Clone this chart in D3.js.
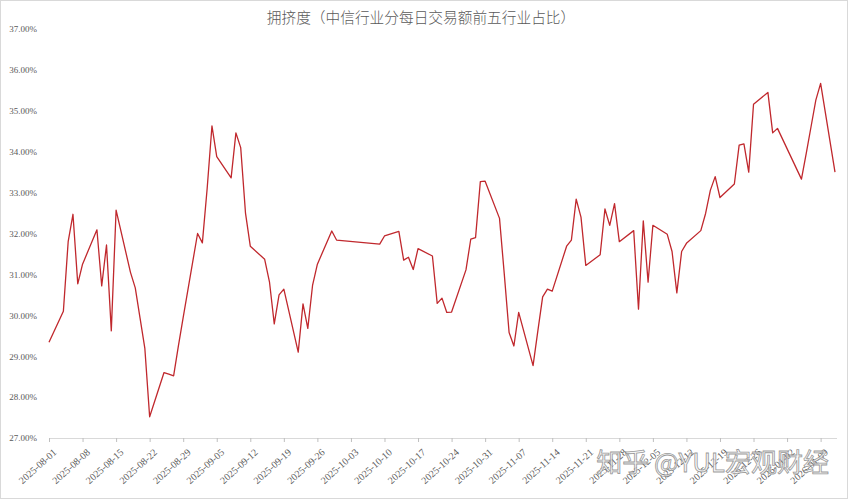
<!DOCTYPE html>
<html>
<head>
<meta charset="utf-8">
<script src="https://cdn.jsdelivr.net/npm/d3@7"></script>
<style>
  body { margin: 0; background: #fff; }
  .tick text { font-family: "Liberation Serif", "Times New Roman", serif; }
</style>
</head>
<body>
<script>
// trading days
var dates = [
  "2025-08-01", "2025-08-04", "2025-08-05", "2025-08-06", "2025-08-07", "2025-08-08",
  "2025-08-11", "2025-08-12", "2025-08-13", "2025-08-14", "2025-08-15",
  "2025-08-18", "2025-08-19", "2025-08-20", "2025-08-21", "2025-08-22",
  "2025-08-25", "2025-08-26", "2025-08-27", "2025-08-28", "2025-08-29",
  "2025-09-01", "2025-09-02", "2025-09-03", "2025-09-04", "2025-09-05",
  "2025-09-08", "2025-09-09", "2025-09-10", "2025-09-11", "2025-09-12",
  "2025-09-15", "2025-09-16", "2025-09-17", "2025-09-18", "2025-09-19",
  "2025-09-22", "2025-09-23", "2025-09-24", "2025-09-25", "2025-09-26",
  "2025-09-29", "2025-09-30", "2025-10-09", "2025-10-10",
  "2025-10-13", "2025-10-14", "2025-10-15", "2025-10-16", "2025-10-17",
  "2025-10-20", "2025-10-21", "2025-10-22", "2025-10-23", "2025-10-24",
  "2025-10-27", "2025-10-28", "2025-10-29", "2025-10-30", "2025-10-31",
  "2025-11-03", "2025-11-04", "2025-11-05", "2025-11-06", "2025-11-07",
  "2025-11-10", "2025-11-11", "2025-11-12", "2025-11-13", "2025-11-14",
  "2025-11-17", "2025-11-18", "2025-11-19", "2025-11-20", "2025-11-21",
  "2025-11-24", "2025-11-25", "2025-11-26", "2025-11-27", "2025-11-28",
  "2025-12-01", "2025-12-02", "2025-12-03", "2025-12-04", "2025-12-05",
  "2025-12-08", "2025-12-09", "2025-12-10", "2025-12-11", "2025-12-12",
  "2025-12-15", "2025-12-16", "2025-12-17", "2025-12-18", "2025-12-19",
  "2025-12-22", "2025-12-23", "2025-12-24", "2025-12-25", "2025-12-26",
  "2025-12-29", "2025-12-30", "2025-12-31",
  "2026-01-05", "2026-01-06", "2026-01-07", "2026-01-08", "2026-01-09",
  "2026-01-12"
];

// share of top five industries (%)
var values = [
  29.34, 30.10, 31.80, 32.47, 30.77, 31.25,
  32.09, 30.72, 31.72, 29.62, 32.57,
  31.05, 30.67, 29.93, 29.19, 27.52,
  28.60, 28.56, 28.52, 29.25, 29.95,
  32.00, 31.77, 33.10, 34.63, 33.88,
  33.36, 34.46, 34.10, 32.50, 31.69,
  31.37, 30.82, 29.79, 30.50, 30.64,
  29.10, 30.28, 29.68, 30.74, 31.25,
  32.06, 31.84, 31.74, 31.94,
  32.05, 31.35, 31.42, 31.12, 31.63,
  31.45, 30.29, 30.42, 30.07, 30.08,
  31.11, 31.86, 31.90, 33.27, 33.28,
  32.37, 31.00, 29.58, 29.25, 30.07,
  28.77, 29.62, 30.45, 30.64, 30.59,
  31.69, 31.84, 32.84, 32.40, 31.22,
  31.48, 32.60, 32.20, 32.73, 31.80,
  32.07, 30.15, 32.31, 30.81, 32.20,
  31.98, 31.56, 30.55, 31.56, 31.76,
  32.07, 32.49, 33.06, 33.39, 32.88,
  33.21, 34.16, 34.19, 33.50, 35.16,
  35.45, 34.46, 34.57,
  33.33, 33.96, 34.61, 35.26, 35.67,
  33.50
];

var yTicks = [27, 28, 29, 30, 31, 32, 33, 34, 35, 36, 37];
var title = "拥挤度（中信行业分每日交易额前五行业占比）";
var watermark = "知乎 @YUL宏观财经";

var W = 850, H = 500;
var margin = { top: 29, right: 15, bottom: 62, left: 49 };

var parseDate = d3.timeParse("%Y-%m-%d");
var data = dates.map(function(d, i) {
  return { date: parseDate(d), value: values[i] };
});

var svg = d3.select("body").append("svg")
  .attr("width", W)
  .attr("height", H);

// chart border
svg.append("rect")
  .attr("x", 0.5).attr("y", 0.5)
  .attr("width", W - 3).attr("height", H - 2)
  .attr("fill", "#fff")
  .attr("stroke", "#d9d9d9");

var x = d3.scaleTime()
  .domain(d3.extent(data, function(d) { return d.date; }))
  .range([margin.left, 835]);

var y = d3.scaleLinear()
  .domain([27, 37])
  .range([H - margin.bottom, margin.top]);

// title
svg.append("text")
  .attr("x", 421)
  .attr("y", 23)
  .attr("text-anchor", "middle")
  .style("font-family", "'Noto Sans CJK SC', sans-serif")
  .style("font-size", "14.7px")
  .style("font-weight", 300)
  .attr("fill", "#595959")
  .text(title);

// y axis labels, no axis line
var yAxis = svg.append("g")
  .attr("transform", "translate(" + (margin.left - 9) + ",0)")
  .call(d3.axisLeft(y).tickValues(yTicks).tickSize(0)
    .tickFormat(function(d) { return d.toFixed(2) + "%"; }));
yAxis.select(".domain").remove();
yAxis.selectAll("text")
  .attr("fill", "#595959")
  .style("font-size", "9px");

// x axis, weekly labels
var xTicks = d3.timeDay.range(x.domain()[0], x.domain()[1], 7);
var xAxis = svg.append("g")
  .attr("transform", "translate(0," + (H - margin.bottom) + ")")
  .call(d3.axisBottom(x).tickValues(xTicks).tickSize(4).tickSizeOuter(0)
    .tickFormat(d3.timeFormat("%Y-%m-%d")));
xAxis.select(".domain")
  .attr("stroke", "#d9d9d9")
  .attr("d", "M" + margin.left + ",0.5H837");
xAxis.selectAll(".tick line").attr("stroke", "#bfbfbf");
xAxis.selectAll("text")
  .attr("fill", "#595959")
  .style("font-size", "10px")
  .attr("text-anchor", "end")
  .attr("dx", "0")
  .attr("dy", "0")
  .attr("transform", "translate(3,10) rotate(-42)");

// the line
var line = d3.line()
  .x(function(d) { return x(d.date); })
  .y(function(d) { return y(d.value); });

svg.append("path")
  .datum(data)
  .attr("fill", "none")
  .attr("stroke", "#c0282d")
  .attr("stroke-width", 1.3)
  .attr("stroke-linejoin", "round")
  .attr("d", line);

// watermark
svg.append("text")
  .attr("x", 829)
  .attr("y", 472)
  .attr("text-anchor", "end")
  .style("font-family", "'Noto Sans CJK SC', sans-serif")
  .style("font-size", "26px")
  .attr("fill", "#f2f2f2")
  .attr("fill-opacity", 0.75)
  .attr("stroke", "#808080")
  .attr("stroke-width", 0.8)
  .attr("stroke-opacity", 0.8)
  .text(watermark);
</script>
</body>
</html>
